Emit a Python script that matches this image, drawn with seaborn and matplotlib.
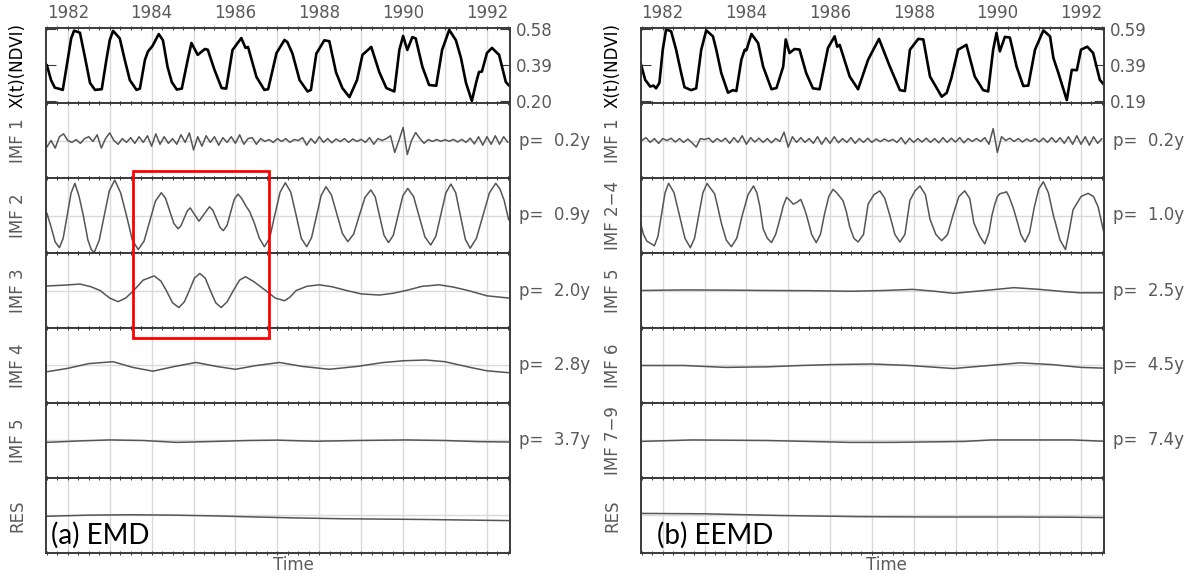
import numpy as np
import matplotlib
matplotlib.use("Agg")
import matplotlib.pyplot as plt
import matplotlib.transforms as mtransforms
from matplotlib.patches import Rectangle
from matplotlib.ticker import MultipleLocator, FuncFormatter
import seaborn as sns

sns.set_style("white")
plt.rcParams['font.family'] = ['DejaVu Sans']

# ---------------- data ----------------
# (a) EMD, original NDVI series
xt_a_time = [1981.50, 1981.60, 1981.69, 1981.78, 1981.88, 1982.00, 1982.08, 1982.15, 1982.29, 1982.41,
             1982.53, 1982.65, 1982.81, 1982.92, 1983.00, 1983.08, 1983.24, 1983.36, 1983.48, 1983.64,
             1983.72, 1983.84, 1983.91, 1984.02, 1984.17, 1984.27, 1984.38, 1984.48, 1984.60, 1984.72,
             1984.86, 1984.95, 1985.10, 1985.27, 1985.34, 1985.50, 1985.67, 1985.78, 1985.93, 1986.14,
             1986.24, 1986.30, 1986.50, 1986.69, 1986.78, 1986.98, 1987.17, 1987.24, 1987.36, 1987.53,
             1987.72, 1987.80, 1987.93, 1988.12, 1988.24, 1988.40, 1988.55, 1988.72, 1988.90, 1989.03,
             1989.24, 1989.43, 1989.60, 1989.79, 1989.91, 1990.00, 1990.10, 1990.22, 1990.30, 1990.46,
             1990.62, 1990.79, 1990.93, 1991.10, 1991.26, 1991.38, 1991.50, 1991.64, 1991.74, 1991.81,
             1991.88, 1992.00, 1992.12, 1992.29, 1992.45, 1992.53]
xt_a_ndvi = [0.390, 0.310, 0.270, 0.265, 0.258, 0.420, 0.530, 0.571, 0.560, 0.430,
             0.295, 0.258, 0.262, 0.416, 0.520, 0.570, 0.530, 0.416, 0.310, 0.258,
             0.265, 0.416, 0.460, 0.490, 0.553, 0.520, 0.380, 0.300, 0.260, 0.265,
             0.416, 0.506, 0.443, 0.474, 0.470, 0.364, 0.268, 0.265, 0.469, 0.532,
             0.480, 0.485, 0.327, 0.258, 0.262, 0.453, 0.522, 0.510, 0.450, 0.310,
             0.250, 0.258, 0.450, 0.520, 0.515, 0.350, 0.268, 0.220, 0.310, 0.443,
             0.485, 0.353, 0.268, 0.250, 0.469, 0.543, 0.469, 0.537, 0.530, 0.380,
             0.284, 0.280, 0.469, 0.575, 0.520, 0.427, 0.295, 0.200, 0.295, 0.353,
             0.355, 0.453, 0.480, 0.443, 0.300, 0.280]

# IMF 1 sampled every 0.1 year from 1981.5 to 1992.5
imf1_a = [-0.035, 0.000, -0.040, 0.020, 0.035, 0.000, -0.010, 0.005, -0.015, 0.010,
          0.020, -0.005, 0.030, -0.040, 0.010, 0.040, 0.000, -0.020, 0.010, -0.010,
          0.015, -0.015, 0.020, -0.010, 0.025, -0.030, 0.035, -0.020, 0.020, -0.015,
          0.010, -0.020, 0.030, -0.010, 0.040, -0.050, 0.020, -0.030, 0.025, -0.010,
          0.020, -0.025, 0.015, -0.010, 0.020, -0.015, 0.030, -0.020, 0.010, 0.015,
          -0.020, 0.010, -0.005, 0.005, -0.010, 0.010, -0.005, 0.010, -0.010, 0.005,
          0.000, 0.015, -0.025, 0.010, -0.015, 0.020, -0.010, 0.010, -0.012, 0.008,
          -0.006, 0.010, -0.010, 0.008, -0.005, 0.006, -0.010, 0.015, -0.020, 0.010,
          0.000, 0.010, 0.025, -0.063, 0.000, 0.069, -0.074, 0.000, 0.042, 0.010,
          -0.015, 0.005, -0.005, 0.005, -0.004, 0.004, -0.004, 0.006, -0.008, 0.006,
          -0.010, 0.012, -0.018, 0.020, -0.025, 0.020, -0.020, 0.025, -0.020, 0.020,
          -0.010]

imf2_a_time = [1981.50, 1981.60, 1981.70, 1981.80, 1981.89, 1981.985, 1982.08, 1982.17, 1982.27, 1982.37,
               1982.48, 1982.56, 1982.63, 1982.75, 1982.87, 1982.99, 1983.12, 1983.26, 1983.40, 1983.54,
               1983.68, 1983.82, 1983.955, 1984.09, 1984.23, 1984.33, 1984.43, 1984.53, 1984.63, 1984.70,
               1984.775, 1984.85, 1984.92, 1985.025, 1985.13, 1985.255, 1985.38, 1985.46, 1985.545, 1985.63,
               1985.71, 1985.80, 1985.885, 1985.97, 1986.06, 1986.15, 1986.25, 1986.34, 1986.45, 1986.57,
               1986.69, 1986.815, 1986.94, 1987.065, 1987.19, 1987.32, 1987.445, 1987.57, 1987.70, 1987.815,
               1987.93, 1988.045, 1988.16, 1988.29, 1988.42, 1988.55, 1988.68, 1988.82, 1988.955, 1989.09,
               1989.23, 1989.335, 1989.44, 1989.545, 1989.65, 1989.765, 1989.88, 1989.995, 1990.11, 1990.25,
               1990.385, 1990.52, 1990.66, 1990.78, 1990.90, 1991.02, 1991.14, 1991.255, 1991.37, 1991.485,
               1991.60, 1991.75, 1991.905, 1992.06, 1992.21, 1992.31, 1992.41, 1992.52]
imf2_a = [0.013, -0.060, -0.140, -0.170, -0.120, 0.000, 0.120, 0.170, 0.100, 0.000,
          -0.130, -0.180, -0.196, -0.130, 0.000, 0.130, 0.187, 0.120, 0.000, -0.130,
          -0.180, -0.135, -0.030, 0.076, 0.120, 0.092, 0.025, -0.042, -0.070, -0.054,
          -0.015, 0.024, 0.040, 0.005, -0.030, 0.008, 0.046, 0.028, -0.017, -0.062,
          -0.080, -0.052, 0.017, 0.085, 0.113, 0.090, 0.050, 0.020, -0.040, -0.120,
          -0.165, -0.120, 0.004, 0.123, 0.173, 0.123, 0.004, -0.120, -0.165, -0.117,
          -0.006, 0.106, 0.152, 0.108, 0.007, -0.094, -0.138, -0.098, 0.000, 0.095,
          0.135, 0.098, -0.004, -0.105, -0.143, -0.105, 0.000, 0.105, 0.143, 0.100,
          -0.007, -0.113, -0.156, -0.110, 0.005, 0.120, 0.166, 0.120, -0.004, -0.126,
          -0.173, -0.120, 0.000, 0.120, 0.170, 0.140, 0.080, -0.024]

imf3_a_time = [1981.50, 1981.90, 1982.29, 1982.55, 1982.77, 1983.00, 1983.20, 1983.38, 1983.55, 1983.80,
               1984.06, 1984.22, 1984.35, 1984.50, 1984.65, 1984.78, 1984.90, 1985.02, 1985.15, 1985.28,
               1985.40, 1985.53, 1985.66, 1985.80, 1985.95, 1986.10, 1986.24, 1986.45, 1986.72, 1986.95,
               1987.17, 1987.30, 1987.45, 1987.70, 1988.00, 1988.30, 1988.65, 1989.00, 1989.43, 1989.75,
               1990.07, 1990.45, 1990.86, 1991.20, 1991.55, 1992.00, 1992.52]
imf3_a = [0.024, 0.028, 0.034, 0.020, 0.000, -0.040, -0.059, -0.040, -0.005, 0.055,
          0.077, 0.050, 0.000, -0.065, -0.090, -0.060, 0.000, 0.065, 0.090, 0.065,
          0.000, -0.065, -0.090, -0.060, 0.000, 0.055, 0.073, 0.045, 0.000, -0.040,
          -0.054, -0.035, 0.000, 0.022, 0.030, 0.020, 0.000, -0.018, -0.024, -0.015,
          0.000, 0.022, 0.030, 0.018, 0.000, -0.028, -0.040]

imf4_a_time = [1981.50, 1982.00, 1982.50, 1983.08, 1983.55, 1984.03, 1984.55, 1985.06, 1985.55, 1986.00,
               1986.50, 1987.05, 1987.60, 1988.24, 1988.90, 1989.50, 1990.00, 1990.54, 1991.00, 1991.60,
               1992.00, 1992.52]
imf4_a = [-0.033, -0.015, 0.010, 0.020, -0.010, -0.030, -0.005, 0.016, -0.005, -0.020,
          0.000, 0.016, -0.005, -0.020, -0.005, 0.015, 0.025, 0.029, 0.020, -0.010,
          -0.028, -0.038]

imf5_a_time = [1981.50, 1982.30, 1983.00, 1983.80, 1984.60, 1985.50, 1986.30, 1987.00, 1987.90, 1988.90,
               1990.07, 1991.00, 1991.80, 1992.52]
imf5_a = [-0.010, -0.002, 0.003, 0.000, -0.010, -0.005, 0.000, 0.002, -0.004, 0.000,
          0.003, 0.000, -0.006, -0.008]

res_a_time = [1981.50, 1982.50, 1983.50, 1984.50, 1985.50, 1986.50, 1987.50, 1988.50, 1989.50, 1990.50,
              1991.50, 1992.52]
res_a = [-0.004, 0.002, 0.004, 0.002, -0.002, -0.008, -0.013, -0.017, -0.019, -0.021, -0.024, -0.027]

# (b) EEMD
xt_b_time = [1981.47, 1981.58, 1981.70, 1981.78, 1981.84, 1981.92, 1982.00, 1982.08, 1982.20, 1982.32,
             1982.44, 1982.52, 1982.68, 1982.80, 1982.92, 1983.04, 1983.20, 1983.28, 1983.40, 1983.56,
             1983.68, 1983.76, 1983.88, 1983.96, 1984.00, 1984.12, 1984.28, 1984.40, 1984.60, 1984.72,
             1984.88, 1984.94, 1985.03, 1985.15, 1985.27, 1985.43, 1985.59, 1985.75, 1985.95, 1986.11,
             1986.17, 1986.23, 1986.47, 1986.67, 1986.91, 1987.17, 1987.43, 1987.67, 1987.79, 1987.91,
             1988.11, 1988.23, 1988.39, 1988.67, 1988.79, 1988.90, 1989.06, 1989.26, 1989.46, 1989.66,
             1989.78, 1989.90, 1989.98, 1990.06, 1990.18, 1990.30, 1990.46, 1990.62, 1990.74, 1990.90,
             1991.10, 1991.26, 1991.34, 1991.46, 1991.66, 1991.78, 1991.90, 1992.00, 1992.15, 1992.29,
             1992.45, 1992.55]
xt_b_ndvi = [0.400, 0.307, 0.270, 0.275, 0.260, 0.290, 0.473, 0.585, 0.575, 0.473,
             0.345, 0.266, 0.250, 0.260, 0.473, 0.580, 0.547, 0.473, 0.344, 0.236,
             0.250, 0.245, 0.418, 0.473, 0.470, 0.560, 0.510, 0.380, 0.255, 0.262,
             0.380, 0.530, 0.455, 0.477, 0.474, 0.344, 0.260, 0.255, 0.483, 0.547,
             0.490, 0.500, 0.325, 0.255, 0.418, 0.533, 0.380, 0.250, 0.245, 0.473,
             0.533, 0.530, 0.325, 0.214, 0.235, 0.316, 0.473, 0.500, 0.325, 0.250,
             0.243, 0.473, 0.566, 0.464, 0.544, 0.540, 0.380, 0.273, 0.275, 0.473,
             0.580, 0.547, 0.427, 0.344, 0.195, 0.362, 0.360, 0.473, 0.490, 0.455,
             0.307, 0.280]

imf1_b = [0.000, 0.015, -0.010, 0.010, -0.015, 0.010, 0.000, 0.012, -0.008, 0.010,
          -0.010, 0.008, -0.012, -0.035, 0.010, 0.005, 0.012, -0.010, 0.010, -0.005,
          0.012, -0.015, 0.015, -0.010, 0.025, -0.020, 0.015, -0.008, 0.012, -0.010,
          0.010, -0.012, 0.010, -0.005, 0.044, -0.035, 0.020, -0.010, 0.015, -0.010,
          0.010, -0.015, 0.020, -0.020, 0.015, -0.015, 0.020, -0.012, 0.010, -0.010,
          0.015, -0.015, 0.010, -0.010, 0.012, -0.010, 0.008, -0.006, 0.008, -0.004,
          0.006, -0.010, 0.015, -0.018, 0.012, -0.010, 0.010, -0.008, 0.012, -0.010,
          0.010, -0.012, 0.015, -0.010, 0.012, -0.008, 0.015, -0.012, 0.010, -0.005,
          0.010, -0.005, 0.015, -0.020, 0.063, -0.063, 0.020, 0.000, 0.012, -0.005,
          0.010, -0.008, 0.008, -0.005, 0.010, -0.008, 0.012, -0.010, 0.015, -0.010,
          0.015, -0.015, 0.020, -0.020, 0.025, -0.020, 0.020, -0.025, 0.020, -0.015,
          0.010]

imf24_b_time = [1981.47, 1981.54, 1981.62, 1981.80, 1981.885, 1981.97, 1982.055, 1982.14, 1982.27, 1982.40,
                1982.53, 1982.66, 1982.76, 1982.86, 1982.96, 1983.06, 1983.12, 1983.24, 1983.32, 1983.40,
                1983.52, 1983.64, 1983.77, 1983.90, 1984.04, 1984.17, 1984.25, 1984.32, 1984.40, 1984.50,
                1984.60, 1984.70, 1984.80, 1984.88, 1984.96, 1985.04, 1985.12, 1985.21, 1985.30, 1985.38,
                1985.44, 1985.56, 1985.67, 1985.77, 1985.87, 1985.97, 1986.07, 1986.16, 1986.31, 1986.39,
                1986.47, 1986.57, 1986.67, 1986.80, 1986.91, 1987.05, 1987.19, 1987.31, 1987.43, 1987.55,
                1987.67, 1987.79, 1987.91, 1988.03, 1988.15, 1988.28, 1988.39, 1988.53, 1988.67, 1988.81,
                1988.95, 1989.08, 1989.22, 1989.34, 1989.44, 1989.58, 1989.70, 1989.80, 1989.87, 1989.94,
                1990.00, 1990.06, 1990.15, 1990.22, 1990.28, 1990.38, 1990.46, 1990.56, 1990.66, 1990.77,
                1990.88, 1990.99, 1991.10, 1991.22, 1991.34, 1991.50, 1991.63, 1991.72, 1991.81, 1992.00,
                1992.17, 1992.30, 1992.41, 1992.55]
imf24_b = [-0.040, -0.100, -0.135, -0.160, -0.110, 0.005, 0.120, 0.170, 0.120, 0.000,
           -0.120, -0.170, -0.120, 0.000, 0.120, 0.170, 0.150, 0.115, 0.040, -0.040,
           -0.130, -0.165, -0.120, 0.000, 0.110, 0.156, 0.120, 0.050, -0.070, -0.120,
           -0.143, -0.100, -0.020, 0.050, 0.096, 0.080, 0.060, 0.070, 0.085, 0.040,
           0.000, -0.100, -0.143, -0.100, 0.010, 0.100, 0.138, 0.120, 0.078, 0.020,
           -0.060, -0.120, -0.140, -0.100, 0.060, 0.110, 0.130, 0.090, 0.000, -0.100,
           -0.140, -0.100, 0.080, 0.130, 0.156, 0.110, -0.020, -0.100, -0.133, -0.100,
           0.010, 0.100, 0.130, 0.090, -0.040, -0.110, -0.150, -0.090, 0.000, 0.060,
           0.100, 0.115, 0.120, 0.125, 0.100, 0.040, -0.020, -0.100, -0.140, -0.090,
           0.040, 0.140, 0.178, 0.120, 0.000, -0.130, -0.180, -0.080, 0.030, 0.100,
           0.117, 0.100, 0.045, -0.094]

imf5_b_time = [1981.47, 1982.50, 1983.50, 1984.50, 1985.50, 1986.50, 1987.30, 1987.97, 1988.50, 1988.95,
               1989.60, 1990.40, 1991.00, 1991.60, 1991.97, 1992.55]
imf5_b = [0.000, 0.003, 0.002, 0.000, -0.001, -0.004, 0.000, 0.006, -0.004, -0.015,
          -0.002, 0.015, 0.006, -0.006, -0.012, -0.012]

imf6_b_time = [1981.47, 1982.50, 1983.50, 1984.50, 1985.30, 1986.07, 1987.00, 1987.90, 1988.95, 1989.80,
               1990.54, 1991.30, 1992.00, 1992.55]
imf6_b = [0.000, 0.000, -0.010, -0.007, 0.000, 0.005, 0.008, 0.000, -0.016, 0.000,
          0.014, 0.005, -0.010, -0.014]

imf79_b_time = [1981.47, 1982.70, 1984.50, 1986.47, 1987.50, 1989.20, 1989.86, 1991.80, 1992.55]
imf79_b = [-0.005, 0.003, 0.000, -0.010, -0.010, -0.005, 0.003, 0.003, -0.004]

res_b_time = [1981.47, 1983.00, 1984.80, 1986.70, 1988.50, 1990.50, 1991.70, 1992.55]
res_b = [0.011, 0.009, 0.000, -0.006, -0.008, -0.008, -0.009, -0.011]

imf1_time = np.linspace(1981.5, 1992.5, len(imf1_a))

panel_a = [("X(t)(NDVI)", xt_a_time, xt_a_ndvi, None),
           ("IMF 1", imf1_time, imf1_a, "0.2y"),
           ("IMF 2", imf2_a_time, imf2_a, "0.9y"),
           ("IMF 3", imf3_a_time, imf3_a, "2.0y"),
           ("IMF 4", imf4_a_time, imf4_a, "2.8y"),
           ("IMF 5", imf5_a_time, imf5_a, "3.7y"),
           ("RES", res_a_time, res_a, None)]
panel_b = [("X(t)(NDVI)", xt_b_time, xt_b_ndvi, None),
           ("IMF 1", imf1_time, imf1_b, "0.2y"),
           ("IMF 2\u22124", imf24_b_time, imf24_b, "1.0y"),
           ("IMF 5", imf5_b_time, imf5_b, "2.5y"),
           ("IMF 6", imf6_b_time, imf6_b, "4.5y"),
           ("IMF 7\u22129", imf79_b_time, imf79_b, "7.4y"),
           ("RES", res_b_time, res_b, None)]

# ---------------- drawing ----------------
W, H = 1191, 574
fig = plt.figure(figsize=(W / 100, H / 100), dpi=100)
TXT = "#5a5a5a"
SPINE = "#3a3a3a"
GRID = "#dadada"
XMIN, XMAX = 1981.48, 1992.55


def draw_panel(rows, left_px, right_px, xt_ticks, xt_lim, tag, tag_x, time_x):
    gs = fig.add_gridspec(7, 1, left=left_px / W, right=right_px / W,
                          top=1 - 28 / H, bottom=1 - 553 / H, hspace=0)
    axes = []
    for i, (label, t, v, period) in enumerate(rows):
        ax = fig.add_subplot(gs[i])
        first = i == 0
        sns.lineplot(x=np.asarray(t), y=np.asarray(v), ax=ax,
                     color="black" if first else "#555555",
                     linewidth=1.9 if first else 1.1, estimator=None)
        ax.set_xlim(XMIN, XMAX)
        ax.xaxis.set_major_locator(MultipleLocator(1))
        ax.xaxis.set_minor_locator(MultipleLocator(0.25))
        ax.xaxis.set_major_formatter(FuncFormatter(
            lambda x, p: f"{int(round(x))}" if int(round(x)) % 2 == 0 else ""))
        ax.grid(axis="x", which="major", color=GRID, linewidth=1.0)
        ax.set_axisbelow(True)
        ax.tick_params(axis="x", which="both", direction="inout", top=True, bottom=True,
                       length=2.2, width=0.7, color=SPINE, labelbottom=False,
                       labeltop=first, labelsize=12, labelcolor=TXT, pad=3)
        for s in ax.spines.values():
            s.set_color(SPINE)
            s.set_linewidth(1.4)
        if first:
            ax.set_ylim(*xt_lim)
            ax.set_yticks(xt_ticks)
            ax.yaxis.set_major_formatter(FuncFormatter(lambda y, p: f"{y:.2f}"))
            ax.tick_params(axis="y", left=True, right=True, direction="in", length=7,
                           width=0.8, color=SPINE, labelleft=False, labelright=True,
                           labelsize=12, labelcolor=TXT, pad=4)
        else:
            ax.set_ylim(-0.198, 0.198)
            ax.set_yticks([0])
            ax.grid(axis="y", color=GRID, linewidth=1.0)
            ax.tick_params(axis="y", length=0, labelleft=False, labelright=False)
        if period:
            ax.text(1.02, 0.5, f"p=  {period}", transform=ax.transAxes, ha="left",
                    va="center", fontsize=12, color=TXT)
        ax.set_ylabel(label, fontsize=12, color="black" if first else TXT)
        ax.yaxis.set_label_coords(-0.042, 0.5)
        ax.set_xlabel("")
        axes.append(ax)
    last = axes[-1]
    last.text(tag_x, 0.13, tag, transform=last.transAxes, fontsize=20,
              family=["Lato", "DejaVu Sans"], color="black", va="baseline", ha="left")
    last.set_xlabel("Time", fontsize=12, color=TXT)
    last.xaxis.set_label_coords(time_x, -0.035)
    return axes


axes_a = draw_panel(panel_a, 46, 510, [0.20, 0.39, 0.58], (0.189, 0.585),
                    "(a) EMD", 0.011, 0.534)
axes_b = draw_panel(panel_b, 641, 1104, [0.19, 0.39, 0.59], (0.179, 0.593),
                    "(b) EEMD", 0.035, 0.531)

# red box highlighting IMF 2 / IMF 3 section
ax2 = axes_a[2]
trans = mtransforms.blended_transform_factory(ax2.transData, ax2.transAxes)
fig.add_artist(Rectangle((1983.55, -1.133), 3.24, 2.226, transform=trans,
                         fill=False, edgecolor="red", linewidth=2.0, zorder=10))

fig.savefig("out.png", dpi=100)
